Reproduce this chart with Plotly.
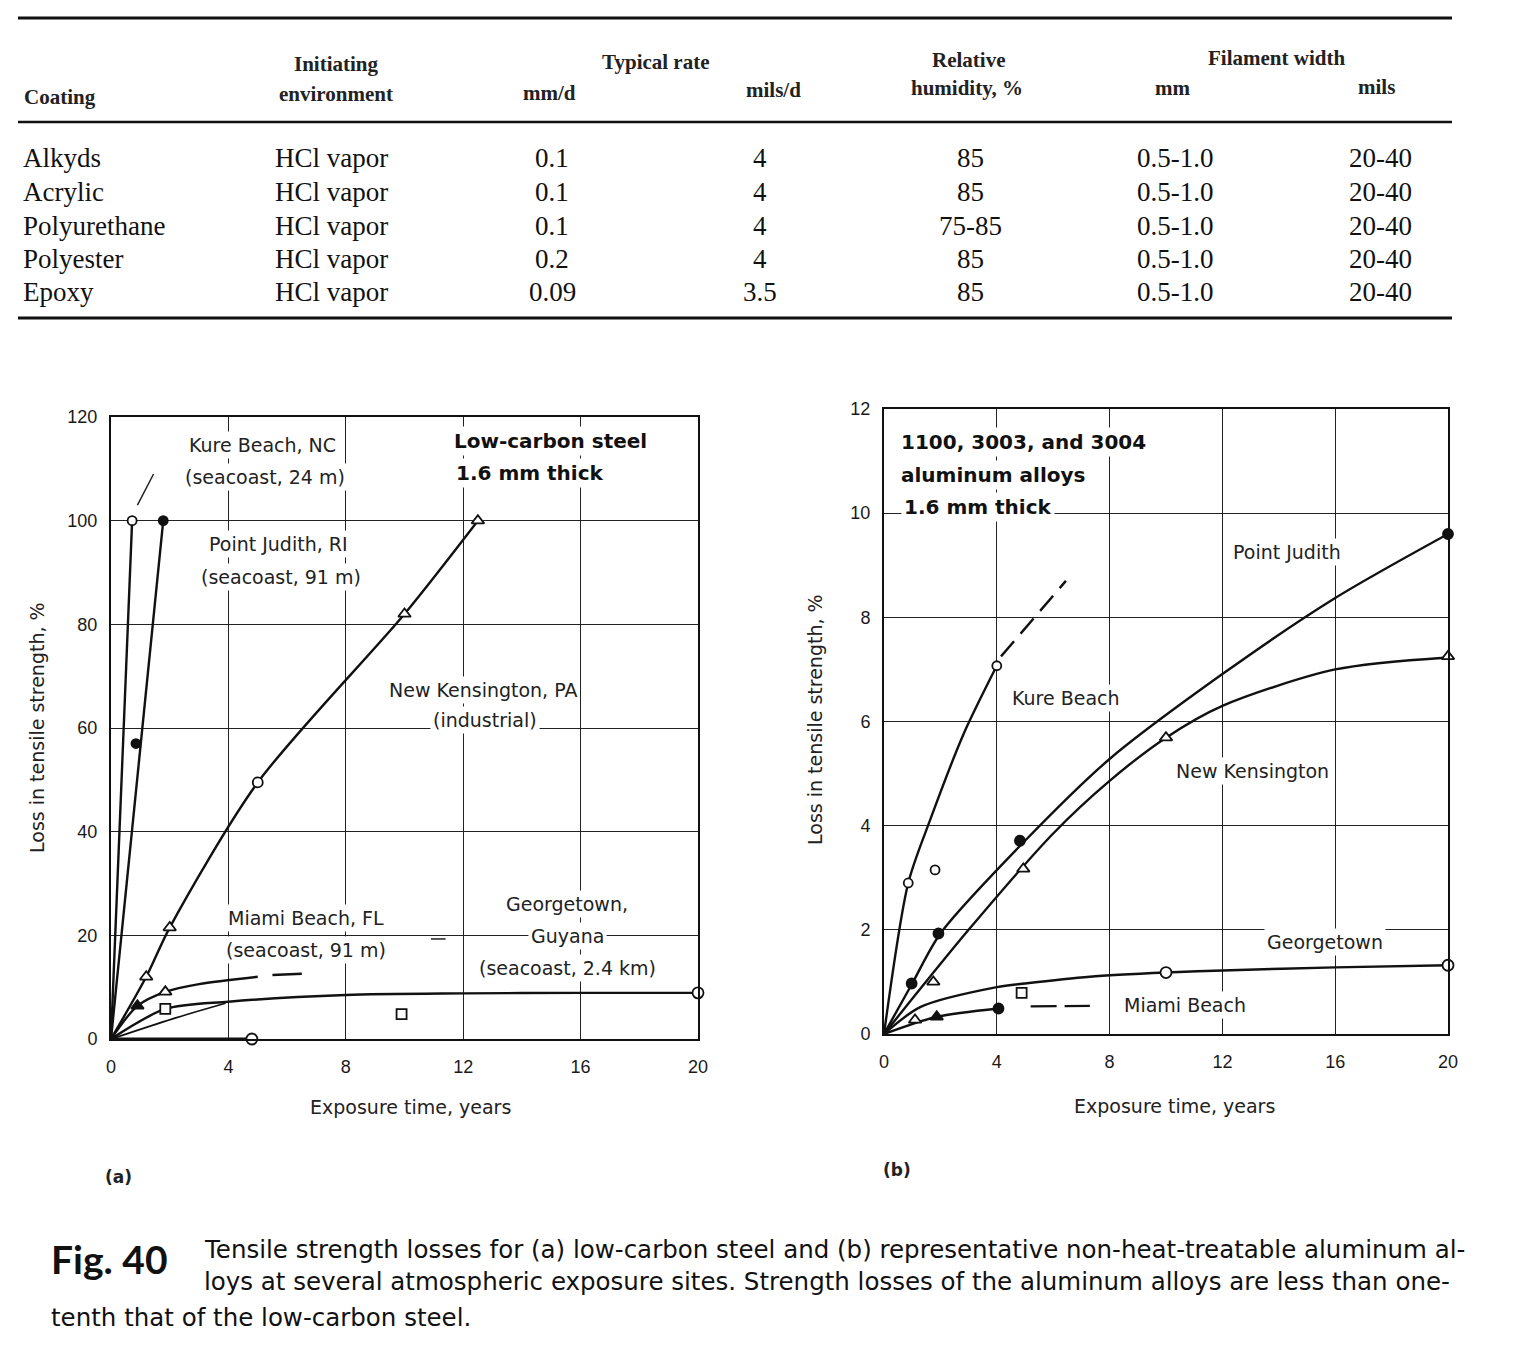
import plotly.graph_objects as go

W, H = 1520, 1352

# ---------------- table data ----------------
table_coatings = ["Alkyds", "Acrylic", "Polyurethane", "Polyester", "Epoxy"]
table_environment = ["HCl vapor", "HCl vapor", "HCl vapor", "HCl vapor", "HCl vapor"]
table_rate_mm_d = ["0.1", "0.1", "0.1", "0.2", "0.09"]
table_rate_mils_d = ["4", "4", "4", "4", "3.5"]
table_humidity = ["85", "85", "75-85", "85", "85"]
table_width_mm = ["0.5-1.0", "0.5-1.0", "0.5-1.0", "0.5-1.0", "0.5-1.0"]
table_width_mils = ["20-40", "20-40", "20-40", "20-40", "20-40"]

# ---------------- (a) low-carbon steel ----------------
steel_kure_x = [0, 0.72]
steel_kure_y = [0, 100]
steel_kure_mx = [0.72]
steel_kure_my = [100]

steel_pj_x = [0, 1.78]
steel_pj_y = [0, 100]
steel_pj_mx = [0.85, 1.78]
steel_pj_my = [57, 100]

steel_nk_x = [0, 1.2, 2.0, 5.0, 10.0, 12.5]
steel_nk_y = [0, 12, 21.5, 49.5, 82, 100]
steel_nk_tri_x = [1.2, 2.0, 10.0, 12.5]
steel_nk_tri_y = [12, 21.5, 82, 100]
steel_nk_circ_x = [5.0]
steel_nk_circ_y = [49.5]

steel_miami_x = [0, 0.9, 1.85, 3.0, 5.0]
steel_miami_y = [0, 6.4, 9.1, 10.6, 12.0]
steel_miami_dash_x = [5.5, 6.5]
steel_miami_dash_y = [12.35, 12.6]
steel_miami_fill_x = [0.9]
steel_miami_fill_y = [6.4]
steel_miami_open_x = [1.85]
steel_miami_open_y = [9.1]

steel_geo_x = [0, 1.85, 4.0, 8.0, 12.0, 16.0, 20.0]
steel_geo_y = [0, 5.8, 7.2, 8.5, 8.8, 8.9, 8.9]
steel_geo_low_x = [0, 2.1, 3.9]
steel_geo_low_y = [0, 3.9, 6.9]
steel_geo_sq_x = [1.85, 9.9]
steel_geo_sq_y = [5.8, 4.8]
steel_geo_circ_x = [20.0]
steel_geo_circ_y = [8.9]
steel_base_x = [0, 4.8]
steel_base_y = [0, 0]

# ---------------- (b) aluminum alloys ----------------
alu_kure_x = [0, 0.86, 1.63, 2.83, 4.0]
alu_kure_y = [0, 2.9, 4.1, 5.77, 7.07]
alu_kure_dash_x = [4.15, 6.45]
alu_kure_dash_y = [7.25, 8.7]
alu_kure_mx = [0.86, 1.81, 4.0]
alu_kure_my = [2.9, 3.15, 7.07]

alu_pj_x = [0, 1, 2, 5, 8, 12, 16, 20]
alu_pj_y = [0, 0.97, 1.93, 3.71, 5.28, 6.91, 8.37, 9.6]
alu_pj_mx = [0.98, 1.93, 4.82, 20]
alu_pj_my = [0.97, 1.93, 3.71, 9.6]

alu_nk_x = [0, 3, 6, 8, 10, 12, 16, 20]
alu_nk_y = [0, 2.0, 3.85, 4.86, 5.69, 6.3, 7.0, 7.23]
alu_nk_mx = [1.1, 1.75, 4.94, 10, 20]
alu_nk_my = [0.27, 1.0, 3.17, 5.69, 7.25]

alu_geo_x = [0, 1.3, 4, 5, 7.3, 10, 12, 16, 20]
alu_geo_y = [0, 0.52, 0.9, 0.97, 1.1, 1.18, 1.22, 1.28, 1.32]
alu_geo_circ_x = [10, 20]
alu_geo_circ_y = [1.18, 1.32]
alu_geo_sq_x = [4.88]
alu_geo_sq_y = [0.79]

alu_miami_x = [0, 1.87, 4.06]
alu_miami_y = [0, 0.33, 0.49]
alu_miami_dash_x = [5.2, 7.3]
alu_miami_dash_y = [0.53, 0.54]
alu_miami_tri_x = [1.87]
alu_miami_tri_y = [0.33]
alu_miami_dot_x = [4.06]
alu_miami_dot_y = [0.49]

x_ticks = [0, 4, 8, 12, 16, 20]
steel_y_ticks = [0, 20, 40, 60, 80, 100, 120]
alu_y_ticks = [0, 2, 4, 6, 8, 10, 12]

# ---------------- helpers ----------------
def PX(x):
    return x / W


def PY(y):
    return 1 - y / H


INK = "#111111"
LW = 2.4

fig = go.Figure()


def line(x, y, xa, ya, dash=None, width=LW, shape="spline"):
    fig.add_trace(go.Scatter(
        x=x, y=y, xaxis=xa, yaxis=ya, mode="lines",
        line=dict(color=INK, width=width, dash=dash, shape=shape, smoothing=0.8),
        hoverinfo="skip", showlegend=False, cliponaxis=False))


def marks(x, y, xa, ya, symbol, filled, size=10):
    fig.add_trace(go.Scatter(
        x=x, y=y, xaxis=xa, yaxis=ya, mode="markers",
        marker=dict(symbol=symbol, size=size,
                    color=INK if filled else "white",
                    line=dict(color=INK, width=1.8)),
        hoverinfo="skip", showlegend=False, cliponaxis=False))


# panel (a)
line(steel_kure_x, steel_kure_y, "x", "y", shape="linear")
line(steel_pj_x, steel_pj_y, "x", "y", shape="linear")
line(steel_nk_x, steel_nk_y, "x", "y")
line(steel_miami_x, steel_miami_y, "x", "y")
line(steel_miami_dash_x, steel_miami_dash_y, "x", "y", shape="linear")
line(steel_geo_x, steel_geo_y, "x", "y")
line(steel_geo_low_x, steel_geo_low_y, "x", "y", width=1.8)
line(steel_base_x, steel_base_y, "x", "y", shape="linear", width=3)
marks(steel_kure_mx, steel_kure_my, "x", "y", "circle", False, 9)
marks(steel_pj_mx, steel_pj_my, "x", "y", "circle", True, 9)
marks(steel_nk_tri_x, steel_nk_tri_y, "x", "y", "triangle-up", False, 11)
marks(steel_nk_circ_x, steel_nk_circ_y, "x", "y", "circle", False, 10)
marks(steel_miami_fill_x, steel_miami_fill_y, "x", "y", "triangle-up", True, 11)
marks(steel_miami_open_x, steel_miami_open_y, "x", "y", "triangle-up", False, 11)
marks(steel_geo_sq_x, steel_geo_sq_y, "x", "y", "square", False, 10)
marks(steel_geo_circ_x, steel_geo_circ_y, "x", "y", "circle", False, 11)
marks([steel_base_x[-1]], [steel_base_y[-1]], "x", "y", "circle", False, 11)

# panel (b)
line(alu_kure_x, alu_kure_y, "x2", "y2")
line(alu_kure_dash_x, alu_kure_dash_y, "x2", "y2", dash="20px,10px", shape="linear")
line(alu_pj_x, alu_pj_y, "x2", "y2")
line(alu_nk_x, alu_nk_y, "x2", "y2")
line(alu_geo_x, alu_geo_y, "x2", "y2")
line(alu_miami_x, alu_miami_y, "x2", "y2")
line(alu_miami_dash_x, alu_miami_dash_y, "x2", "y2", dash="26px,8px", shape="linear")
marks(alu_kure_mx, alu_kure_my, "x2", "y2", "circle", False, 9)
marks(alu_pj_mx, alu_pj_my, "x2", "y2", "circle", True, 10)
marks(alu_nk_mx, alu_nk_my, "x2", "y2", "triangle-up", False, 11)
marks(alu_geo_circ_x, alu_geo_circ_y, "x2", "y2", "circle", False, 11)
marks(alu_geo_sq_x, alu_geo_sq_y, "x2", "y2", "square", False, 10)
marks(alu_miami_tri_x, alu_miami_tri_y, "x2", "y2", "triangle-up", True, 11)
marks(alu_miami_dot_x, alu_miami_dot_y, "x2", "y2", "circle", True, 10)

# ---------------- axes ----------------
TICKFONT = dict(family="Liberation Sans", size=18, color="#1a1a1a")


def xaxis(domain, anchor):
    return dict(domain=domain, anchor=anchor, range=[0, 20], tickvals=x_ticks,
                showgrid=True, gridcolor="#222", gridwidth=1, zeroline=False,
                showline=True, linecolor=INK, linewidth=2, mirror=True,
                ticks="", tickfont=TICKFONT, ticklabelstandoff=10, fixedrange=True)


def yaxis(domain, anchor, rng, vals):
    return dict(domain=domain, anchor=anchor, range=rng, tickvals=vals,
                showgrid=True, gridcolor="#222", gridwidth=1, zeroline=False,
                showline=True, linecolor=INK, linewidth=2, mirror=True,
                ticks="", tickfont=TICKFONT, ticklabelstandoff=8, fixedrange=True)


annotations = []
shapes = []


def text(x, y, s, size=19, bold=False, family="DejaVu Sans", anchor="center",
         bg=None, color="#222"):
    d = dict(x=PX(x), y=PY(y), xref="paper", yref="paper", text=("<b>%s</b>" % s) if bold else s,
             showarrow=False, xanchor=anchor, yanchor="middle",
             font=dict(family=family, size=size, color=color))
    if bg:
        d["bgcolor"] = bg
        d["borderpad"] = 2
    annotations.append(d)


# ---------------- table ----------------
SERIF = "Liberation Serif"
for yy, w in [(18, 3), (122, 2.5), (318, 3)]:
    shapes.append(dict(type="line", xref="paper", yref="paper", x0=PX(18), x1=PX(1452),
                       y0=PY(yy), y1=PY(yy), line=dict(color="#111", width=w)))

HDR = 21
text(22, 97, "Coating", HDR, True, SERIF, "left")
text(336, 64, "Initiating", HDR, True, SERIF)
text(336, 94, "environment", HDR, True, SERIF)
text(656, 62, "Typical rate", HDR, True, SERIF)
text(549, 93, "mm/d", HDR, True, SERIF)
text(773, 90, "mils/d", HDR, True, SERIF)
text(968, 60, "Relative", HDR, True, SERIF)
text(967, 88, "humidity, %", HDR, True, SERIF)
text(1276, 58, "Filament width", HDR, True, SERIF)
text(1172, 88, "mm", HDR, True, SERIF)
text(1376, 87, "mils", HDR, True, SERIF)

row_y = [158, 192, 226, 259, 292]
ROW = 27
for i, ry in enumerate(row_y):
    text(21, ry, table_coatings[i], ROW, False, SERIF, "left", color="#111")
    text(273, ry, table_environment[i], ROW, False, SERIF, "left", color="#111")
    text(552, ry, table_rate_mm_d[i], ROW, False, SERIF, color="#111")
    text(760, ry, table_rate_mils_d[i], ROW, False, SERIF, color="#111")
    text(970, ry, table_humidity[i], ROW, False, SERIF, color="#111")
    text(1175, ry, table_width_mm[i], ROW, False, SERIF, color="#111")
    text(1380, ry, table_width_mils[i], ROW, False, SERIF, color="#111")

# ---------------- panel (a) labels ----------------
LBL = 19
text(262, 445, "Kure Beach, NC", LBL, bg="white")
text(265, 477, "(seacoast, 24 m)", LBL, bg="white")
text(278, 544, "Point Judith, RI", LBL, bg="white")
text(281, 577, "(seacoast, 91 m)", LBL, bg="white")
text(451, 441, "Low-carbon steel", 20, True, anchor="left", bg="white", color="#111")
text(453, 473, "1.6 mm thick", 20, True, anchor="left", bg="white", color="#111")
text(483, 690, "New Kensington, PA", LBL, bg="white")
text(485, 720, "(industrial)", LBL, bg="white")
text(306, 918, "Miami Beach, FL", LBL, bg="white")
text(306, 950, "(seacoast, 91 m)", LBL, bg="white")
text(567, 904, "Georgetown,", LBL, bg="white")
text(567, 936, "Guyana", LBL, bg="white")
text(567, 968, "(seacoast, 2.4 km)", LBL, bg="white")
text(410, 1107, "Exposure time, years", LBL)
text(37, 728, "Loss in tensile strength, %", LBL)
annotations[-1]["textangle"] = -90
text(118, 1177, "(a)", 17, True)

# leader lines in (a)
shapes.append(dict(type="line", xref="x", yref="y", x0=0.9, y0=103, x1=1.45, y1=109,
                   line=dict(color="#222", width=1.5)))
shapes.append(dict(type="line", xref="x", yref="y", x0=10.9, y0=19.3, x1=11.4, y1=19.3,
                   line=dict(color="#222", width=1.5)))

# ---------------- panel (b) labels ----------------
text(898, 442, "1100, 3003, and 3004", 20, True, anchor="left", bg="white", color="#111")
text(898, 475, "aluminum alloys", 20, True, anchor="left", bg="white", color="#111")
text(901, 507, "1.6 mm thick", 20, True, anchor="left", bg="white", color="#111")
text(1287, 552, "Point Judith", LBL, bg="white")
text(1066, 698, "Kure Beach", LBL, bg="white")
text(1252, 771, "New Kensington", LBL, bg="white")
text(1325, 942, "Georgetown", LBL, bg="white")
text(1185, 1005, "Miami Beach", LBL, bg="white")
text(1174, 1106, "Exposure time, years", LBL)
text(815, 720, "Loss in tensile strength, %", LBL)
annotations[-1]["textangle"] = -90
text(897, 1170, "(b)", 17, True)

# ---------------- caption ----------------
text(49, 1259, "Fig. 40", 39, True, "Lato", "left", color="#111")
CAP = "DejaVu Sans"
text(202, 1249, "Tensile strength losses for (a) low-carbon steel and (b) representative non-heat-treatable aluminum al-",
     24.5, False, CAP, "left", color="#111")
text(202, 1281, "loys at several atmospheric exposure sites. Strength losses of the aluminum alloys are less than one-",
     24.5, False, CAP, "left", color="#111")
text(49, 1317, "tenth that of the low-carbon steel.", 24.5, False, CAP, "left", color="#111")

fig.update_layout(
    autosize=True, margin=dict(l=0, r=0, t=0, b=0, autoexpand=False),
    paper_bgcolor="white", plot_bgcolor="white",
    xaxis=xaxis([PX(111), PX(698)], "y"),
    yaxis=yaxis([PY(1039), PY(417)], "x", [0, 120], steel_y_ticks),
    xaxis2=xaxis([PX(884), PX(1448)], "y2"),
    yaxis2=yaxis([PY(1034), PY(409)], "x2", [0, 12], alu_y_ticks),
    annotations=annotations, shapes=shapes, showlegend=False,
)

fig.write_html(
    "out.html",
    default_width="100vw",
    default_height="100vh",
    config={"displayModeBar": False, "responsive": True},
    post_script=(
        "document.documentElement.style.margin='0';"
        "document.documentElement.style.overflow='hidden';"
        "document.body.style.margin='0';"
        "document.body.style.padding='0';"
        "document.body.style.overflow='hidden';"
    ),
)
